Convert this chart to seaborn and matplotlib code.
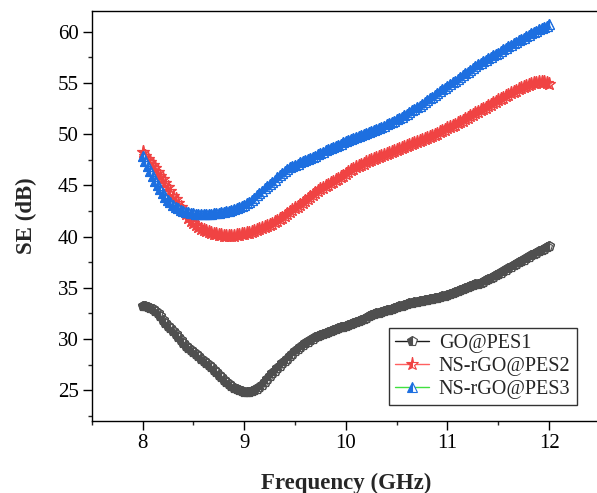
import numpy as np
import pandas as pd
import matplotlib
matplotlib.use("Agg")
import matplotlib.pyplot as plt
from matplotlib.lines import Line2D
from matplotlib.ticker import MultipleLocator
import seaborn as sns

# Measurement grid (GHz), X-band sweep in 25 MHz steps
freq = np.round(np.linspace(8.0, 12.0, 161), 3)

se_go_pes1 = [
    33.20, 33.18, 33.10, 33.02, 32.90, 32.72, 32.50, 32.22, 31.90, 31.60,
    31.30, 31.05, 30.80, 30.50, 30.20, 29.90, 29.60, 29.35, 29.10, 28.90,
    28.70, 28.50, 28.30, 28.10, 27.90, 27.70, 27.50, 27.25, 27.00, 26.75,
    26.50, 26.25, 26.00, 25.80, 25.60, 25.40, 25.20, 25.08, 25.00, 24.92,
    24.86, 24.84, 24.86, 24.92, 25.00, 25.13, 25.30, 25.53, 25.80, 26.10,
    26.40, 26.65, 26.90, 27.15, 27.40, 27.65, 27.90, 28.10, 28.30, 28.55,
    28.80, 29.00, 29.20, 29.40, 29.60, 29.75, 29.90, 30.05, 30.20, 30.30,
    30.40, 30.50, 30.60, 30.70, 30.80, 30.90, 31.00, 31.08, 31.15, 31.22,
    31.30, 31.40, 31.50, 31.60, 31.70, 31.80, 31.90, 32.00, 32.10, 32.20,
    32.30, 32.40, 32.50, 32.58, 32.65, 32.72, 32.80, 32.88, 32.95, 33.02,
    33.10, 33.18, 33.25, 33.32, 33.40, 33.48, 33.55, 33.60, 33.65, 33.70,
    33.75, 33.80, 33.85, 33.90, 33.95, 34.00, 34.05, 34.10, 34.15, 34.22,
    34.30, 34.38, 34.45, 34.55, 34.65, 34.75, 34.85, 34.95, 35.05, 35.15,
    35.25, 35.32, 35.40, 35.50, 35.60, 35.72, 35.85, 35.98, 36.10, 36.22,
    36.35, 36.48, 36.60, 36.75, 36.90, 37.05, 37.20, 37.35, 37.50, 37.62,
    37.75, 37.88, 38.00, 38.15, 38.30, 38.42, 38.55, 38.68, 38.80, 38.95,
    39.10,
]

se_nsrgo_pes2 = [
    48.20, 47.90, 47.60, 47.30, 47.00, 46.65, 46.30, 45.95, 45.60, 45.20,
    44.80, 44.40, 44.00, 43.65, 43.30, 42.90, 42.50, 42.15, 41.80, 41.55,
    41.30, 41.10, 40.90, 40.75, 40.60, 40.50, 40.40, 40.32, 40.25, 40.20,
    40.15, 40.12, 40.10, 40.10, 40.10, 40.10, 40.10, 40.12, 40.15, 40.20,
    40.25, 40.30, 40.35, 40.42, 40.50, 40.60, 40.70, 40.80, 40.90, 41.00,
    41.10, 41.25, 41.40, 41.55, 41.70, 41.85, 42.00, 42.20, 42.40, 42.58,
    42.75, 42.92, 43.10, 43.30, 43.50, 43.70, 43.90, 44.05, 44.20, 44.40,
    44.60, 44.75, 44.90, 45.05, 45.20, 45.35, 45.50, 45.65, 45.80, 45.95,
    46.10, 46.28, 46.45, 46.60, 46.75, 46.88, 47.00, 47.12, 47.25, 47.38,
    47.50, 47.60, 47.70, 47.80, 47.90, 47.98, 48.05, 48.15, 48.25, 48.35,
    48.45, 48.55, 48.65, 48.75, 48.85, 48.95, 49.05, 49.15, 49.25, 49.35,
    49.45, 49.55, 49.65, 49.75, 49.85, 49.95, 50.05, 50.18, 50.30, 50.42,
    50.55, 50.68, 50.80, 50.92, 51.05, 51.18, 51.30, 51.45, 51.60, 51.75,
    51.90, 52.02, 52.15, 52.30, 52.45, 52.58, 52.70, 52.85, 53.00, 53.15,
    53.30, 53.42, 53.55, 53.70, 53.85, 53.98, 54.10, 54.22, 54.35, 54.48,
    54.60, 54.70, 54.80, 54.88, 54.95, 55.00, 55.05, 55.06, 55.05, 55.00,
    54.90,
]

se_nsrgo_pes3 = [
    47.90, 47.40, 46.90, 46.40, 45.90, 45.45, 45.00, 44.60, 44.20, 43.90,
    43.60, 43.35, 43.10, 42.92, 42.75, 42.62, 42.50, 42.42, 42.35, 42.30,
    42.25, 42.22, 42.20, 42.20, 42.20, 42.20, 42.20, 42.22, 42.25, 42.28,
    42.30, 42.35, 42.40, 42.45, 42.50, 42.58, 42.65, 42.75, 42.85, 42.98,
    43.10, 43.25, 43.40, 43.60, 43.80, 44.02, 44.25, 44.48, 44.70, 44.90,
    45.10, 45.32, 45.55, 45.78, 46.00, 46.20, 46.40, 46.58, 46.75, 46.88,
    47.00, 47.12, 47.25, 47.38, 47.50, 47.60, 47.70, 47.80, 47.90, 48.02,
    48.15, 48.28, 48.40, 48.50, 48.60, 48.72, 48.85, 48.95, 49.05, 49.18,
    49.30, 49.40, 49.50, 49.60, 49.70, 49.80, 49.90, 50.00, 50.10, 50.20,
    50.30, 50.40, 50.50, 50.60, 50.70, 50.82, 50.95, 51.08, 51.20, 51.32,
    51.45, 51.58, 51.70, 51.85, 52.00, 52.15, 52.30, 52.45, 52.60, 52.78,
    52.95, 53.12, 53.30, 53.48, 53.65, 53.82, 54.00, 54.18, 54.35, 54.52,
    54.70, 54.88, 55.05, 55.22, 55.40, 55.58, 55.75, 55.92, 56.10, 56.28,
    56.45, 56.62, 56.80, 56.95, 57.10, 57.25, 57.40, 57.55, 57.70, 57.82,
    57.95, 58.10, 58.25, 58.40, 58.55, 58.70, 58.85, 59.00, 59.15, 59.28,
    59.40, 59.55, 59.70, 59.82, 59.95, 60.08, 60.20, 60.32, 60.45, 60.58,
    60.70,
]

labels = ["GO@PES1", "NS-rGO@PES2", "NS-rGO@PES3"]
marker_colors = ["#4f4f4f", "#f04343", "#1d6fe0"]
line_colors = ["#1a1a1a", "#ff6060", "#40e040"]
markers = ["p", "*", "^"]
marker_sizes = [7.5, 9.5, 7.5]

sns.set_style("ticks")
plt.rcParams["font.family"] = ["Liberation Serif", "DejaVu Serif"]

fig = plt.figure(figsize=(5.97, 4.93), dpi=100)
ax = fig.add_axes([0.1536, 0.146, 0.8514, 0.8316])

series = [se_go_pes1, se_nsrgo_pes2, se_nsrgo_pes3]
for vals, mcol, lcol, mk, ms in zip(series, marker_colors, line_colors, markers, marker_sizes):
    df = pd.DataFrame({"Frequency": freq, "SE": vals})
    # half-filled markers (coloured left, white right) along the curve
    sns.lineplot(
        data=df, x="Frequency", y="SE", ax=ax,
        color=lcol, lw=1.0, marker=mk, markersize=ms,
        markerfacecolor=mcol, markeredgecolor=mcol,
        markerfacecoloralt="white", fillstyle="left",
        markeredgewidth=0.8, legend=False,
    )
    # matplotlib paints every white half after every coloured half; repaint the
    # coloured halves and outlines so the markers overlap one another in order,
    # leaving only the white half of the final point exposed
    sns.lineplot(
        data=df, x="Frequency", y="SE", ax=ax,
        linestyle="", marker=mk, markersize=ms,
        markerfacecolor=mcol, markeredgecolor=mcol,
        markerfacecoloralt="none", fillstyle="left",
        markeredgewidth=0.8, legend=False,
    )

ax.set_xlim(7.5, 12.5)
ax.set_ylim(22, 62)
ax.xaxis.set_major_locator(MultipleLocator(1))
ax.xaxis.set_minor_locator(MultipleLocator(0.5))
ax.yaxis.set_major_locator(MultipleLocator(5))
ax.yaxis.set_minor_locator(MultipleLocator(2.5))

ax.tick_params(axis="both", which="major", direction="out", length=6.5, width=1.0,
               pad=3, labelsize=15, colors="black", top=False, right=False)
ax.tick_params(axis="both", which="minor", direction="out", length=3.2, width=1.0,
               top=False, right=False)
for side in ["left", "bottom", "top", "right"]:
    ax.spines[side].set_visible(True)
    ax.spines[side].set_linewidth(1.0)
    ax.spines[side].set_color("black")

ax.set_xlabel("Frequency (GHz)", fontsize=16.5, fontweight="bold", labelpad=14)
ax.set_ylabel("SE (dB)", fontsize=16.5, fontweight="bold", labelpad=15)

handles = [
    Line2D([0], [0], color=lcol, lw=1.0, marker=mk, markersize=ms,
           markerfacecolor=mcol, markeredgecolor=mcol,
           markerfacecoloralt="white", fillstyle="left", markeredgewidth=0.8)
    for mcol, lcol, mk, ms in zip(marker_colors, line_colors, markers, marker_sizes)
]
leg = ax.legend(handles, labels, loc="lower right", bbox_to_anchor=(0.954, 0.039),
                borderaxespad=0, fontsize=14.5, frameon=True, fancybox=False,
                handlelength=1.7, handletextpad=0.5, borderpad=0.3,
                labelspacing=0.2, edgecolor="black")
leg.get_frame().set_linewidth(1.0)

fig.savefig("out.png", dpi=100)
